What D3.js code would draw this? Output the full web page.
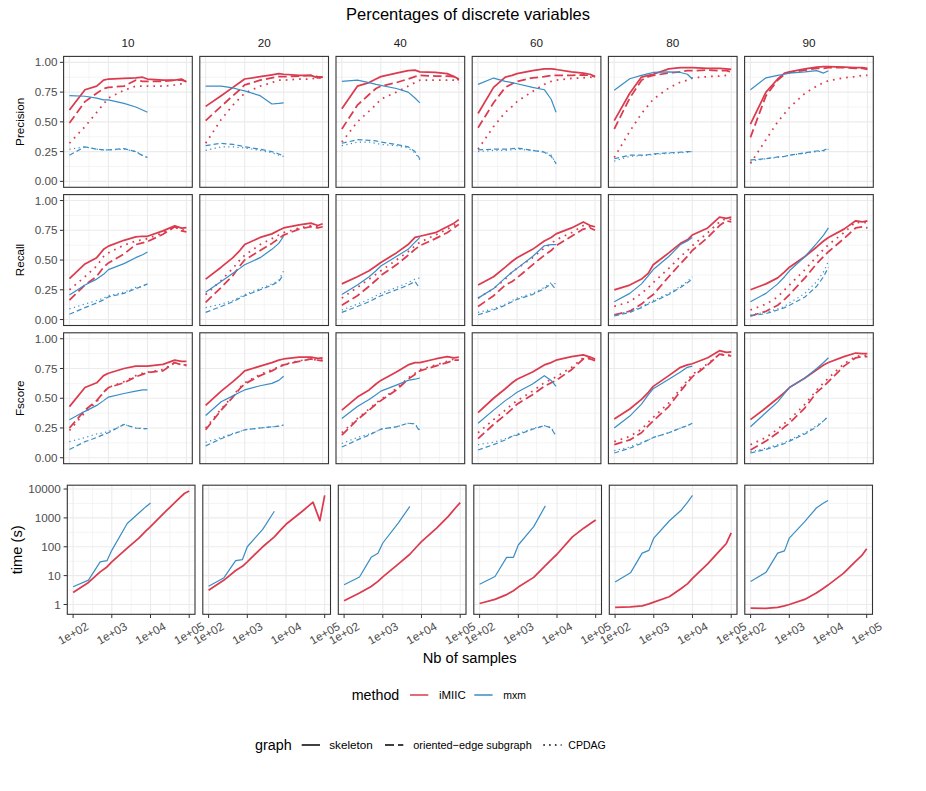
<!DOCTYPE html>
<html><head><meta charset="utf-8">
<script src="https://cdn.jsdelivr.net/npm/d3@7"></script>
<style>body{margin:0;background:#fff} text{font-family:"Liberation Sans",Arial,Helvetica,sans-serif}</style>
</head><body><svg id="c" width="926" height="791"></svg>
<script>
// ---------------- DATA ----------------
const title = "Percentages of discrete variables";
const percentages = ["10","20","40","60","80","90"];
const metrics = ["Precision","Recall","Fscore"];
const methods = ["iMIIC","mxm"];
const graphs = ["skeleton","oriented\u2212edge subgraph","CPDAG"];
const samples = [100,250,500,750,1000,2500,5000,7500,10000,25000,50000,75000,100000];
const xTickValues = [1e2,1e3,1e4,1e5];
const xTickLabels = ["1e+02","1e+03","1e+04","1e+05"];
const yTickValues = [0,0.25,0.5,0.75,1];
const yTickLabels = ["0.00","0.25","0.50","0.75","1.00"];
const timeTickValues = [1,10,100,1000,10000];
const timeTickLabels = ["1","10","100","1000","10000"];

// Precision
const precisionIMIICSkeleton = [
 [0.60,0.77,0.80,0.85,0.86,0.865,0.87,0.875,0.86,0.85,0.85,0.86,0.835],
 [0.63,0.72,0.79,0.83,0.86,0.88,0.895,0.905,0.90,0.89,0.89,0.87,0.875],
 [0.61,0.80,0.83,0.86,0.88,0.91,0.93,0.935,0.92,0.915,0.905,0.88,0.86],
 [0.57,0.79,0.876,0.89,0.905,0.93,0.946,0.945,0.94,0.92,0.91,0.90,0.88],
 [0.51,0.74,0.876,0.89,0.90,0.945,0.955,0.955,0.955,0.95,0.95,0.945,0.94],
 [0.48,0.75,0.86,0.91,0.92,0.945,0.96,0.965,0.965,0.96,0.955,0.955,0.95]];
const precisionIMIICOriented = [
 [0.49,0.67,0.74,0.78,0.79,0.80,0.85,0.84,0.84,0.84,0.85,0.85,0.84],
 [0.51,0.63,0.72,0.77,0.81,0.85,0.87,0.88,0.88,0.885,0.89,0.88,0.875],
 [0.44,0.64,0.73,0.78,0.80,0.83,0.86,0.88,0.89,0.885,0.885,0.88,0.85],
 [0.45,0.66,0.79,0.82,0.84,0.87,0.88,0.89,0.89,0.89,0.895,0.89,0.88],
 [0.44,0.70,0.85,0.88,0.89,0.91,0.92,0.93,0.93,0.935,0.93,0.93,0.92],
 [0.37,0.72,0.85,0.90,0.915,0.935,0.95,0.95,0.955,0.955,0.95,0.95,0.94]];
const precisionIMIICCPDAG = [
 [0.32,0.46,0.58,0.65,0.70,0.765,0.80,0.80,0.80,0.80,0.81,0.82,0.82],
 [0.32,0.52,0.64,0.70,0.74,0.80,0.83,0.85,0.85,0.86,0.86,0.87,0.87],
 [0.33,0.50,0.59,0.645,0.69,0.75,0.80,0.83,0.85,0.85,0.85,0.85,0.83],
 [0.27,0.46,0.58,0.63,0.67,0.756,0.815,0.84,0.85,0.865,0.87,0.875,0.87],
 [0.20,0.42,0.57,0.64,0.69,0.784,0.834,0.85,0.87,0.88,0.885,0.89,0.89],
 [0.15,0.35,0.50,0.57,0.62,0.74,0.80,0.83,0.845,0.87,0.88,0.89,0.89]];
const precisionMxmSkeleton = [
 [0.72,0.715,0.70,0.685,0.685,0.655,0.625,0.60,0.58],
 [0.80,0.80,0.785,0.77,0.76,0.72,0.65,0.655,0.66],
 [0.84,0.85,0.83,0.815,0.807,0.78,0.75,0.70,0.66],
 [0.815,0.868,0.84,0.83,0.82,0.79,0.77,0.69,0.58],
 [0.765,0.862,0.89,0.905,0.915,0.92,0.915,0.90,0.86],
 [0.77,0.87,0.89,0.90,0.91,0.92,0.93,0.91,0.93]];
const precisionMxmOriented = [
 [0.22,0.29,0.27,0.265,0.265,0.275,0.25,0.215,0.20],
 [0.30,0.32,0.31,0.30,0.29,0.27,0.25,0.23,0.215],
 [0.32,0.35,0.345,0.34,0.33,0.31,0.29,0.25,0.19],
 [0.265,0.27,0.27,0.275,0.28,0.26,0.245,0.21,0.15],
 [0.19,0.22,0.22,0.225,0.23,0.24,0.245,0.25,0.25],
 [0.18,0.19,0.205,0.21,0.22,0.24,0.255,0.26,0.28]];
const precisionMxmCPDAG = [
 [0.27,0.29,0.27,0.265,0.265,0.27,0.25,0.22,0.20],
 [0.26,0.29,0.29,0.285,0.28,0.26,0.24,0.22,0.21],
 [0.30,0.33,0.33,0.32,0.31,0.30,0.28,0.24,0.18],
 [0.25,0.26,0.26,0.265,0.27,0.26,0.25,0.22,0.15],
 [0.17,0.21,0.215,0.22,0.225,0.235,0.24,0.245,0.25],
 [0.17,0.19,0.20,0.21,0.22,0.235,0.25,0.255,0.27]];

// Recall
const recallIMIICSkeleton = [
 [0.343,0.467,0.52,0.59,0.617,0.666,0.694,0.70,0.70,0.745,0.787,0.768,0.773],
 [0.34,0.44,0.52,0.58,0.63,0.69,0.72,0.75,0.77,0.795,0.81,0.79,0.805],
 [0.30,0.36,0.41,0.45,0.48,0.56,0.63,0.69,0.70,0.73,0.78,0.81,0.84],
 [0.29,0.36,0.44,0.49,0.52,0.59,0.66,0.69,0.72,0.77,0.82,0.79,0.78],
 [0.25,0.29,0.34,0.39,0.46,0.56,0.64,0.67,0.71,0.77,0.86,0.85,0.86],
 [0.25,0.30,0.35,0.40,0.44,0.53,0.61,0.66,0.69,0.76,0.83,0.82,0.83]];
const recallIMIICOriented = [
 [0.164,0.29,0.363,0.44,0.476,0.55,0.63,0.645,0.655,0.717,0.779,0.745,0.737],
 [0.145,0.27,0.37,0.45,0.50,0.58,0.64,0.68,0.71,0.76,0.78,0.77,0.78],
 [0.12,0.20,0.28,0.33,0.37,0.46,0.54,0.59,0.62,0.68,0.73,0.77,0.80],
 [0.11,0.20,0.29,0.32,0.35,0.46,0.54,0.58,0.62,0.70,0.76,0.77,0.75],
 [0.04,0.07,0.13,0.18,0.21,0.36,0.47,0.53,0.58,0.69,0.79,0.83,0.82],
 [0.03,0.07,0.12,0.17,0.21,0.35,0.47,0.53,0.57,0.68,0.77,0.78,0.77]];
const recallIMIICCPDAG = [
 [0.25,0.36,0.45,0.53,0.56,0.625,0.66,0.67,0.68,0.73,0.78,0.75,0.76],
 [0.21,0.33,0.43,0.50,0.54,0.63,0.68,0.71,0.73,0.77,0.79,0.78,0.79],
 [0.18,0.27,0.34,0.38,0.41,0.50,0.57,0.62,0.65,0.71,0.76,0.79,0.82],
 [0.18,0.26,0.34,0.40,0.43,0.52,0.60,0.64,0.67,0.73,0.79,0.78,0.77],
 [0.11,0.15,0.22,0.27,0.31,0.43,0.53,0.58,0.62,0.73,0.82,0.85,0.84],
 [0.08,0.13,0.19,0.25,0.29,0.42,0.53,0.59,0.63,0.73,0.82,0.81,0.82]];
const recallMxmSkeleton = [
 [0.207,0.29,0.34,0.38,0.42,0.47,0.52,0.545,0.567],
 [0.23,0.32,0.39,0.43,0.46,0.52,0.59,0.64,0.70],
 [0.21,0.29,0.36,0.41,0.45,0.53,0.59,0.65,0.69],
 [0.18,0.26,0.35,0.40,0.43,0.53,0.62,0.63,0.63],
 [0.15,0.22,0.30,0.37,0.42,0.53,0.63,0.66,0.69],
 [0.15,0.22,0.30,0.36,0.41,0.53,0.64,0.71,0.77]];
const recallMxmOriented = [
 [0.045,0.10,0.14,0.165,0.19,0.22,0.26,0.28,0.30],
 [0.06,0.11,0.15,0.18,0.20,0.25,0.29,0.32,0.38],
 [0.06,0.11,0.15,0.18,0.20,0.25,0.29,0.32,0.26],
 [0.04,0.08,0.12,0.15,0.17,0.21,0.26,0.30,0.25],
 [0.03,0.06,0.10,0.13,0.15,0.21,0.27,0.31,0.34],
 [0.03,0.05,0.08,0.10,0.12,0.19,0.28,0.36,0.44]];
const recallMxmCPDAG = [
 [0.09,0.13,0.16,0.18,0.20,0.23,0.27,0.28,0.31],
 [0.10,0.13,0.16,0.19,0.21,0.26,0.30,0.33,0.41],
 [0.08,0.13,0.17,0.20,0.22,0.27,0.31,0.34,0.35],
 [0.06,0.09,0.13,0.16,0.18,0.22,0.27,0.31,0.30],
 [0.04,0.07,0.11,0.14,0.16,0.22,0.28,0.32,0.36],
 [0.04,0.06,0.09,0.11,0.14,0.22,0.32,0.40,0.49]];

// Fscore
const fscoreIMIICSkeleton = [
 [0.43,0.59,0.63,0.69,0.71,0.75,0.77,0.77,0.77,0.785,0.82,0.81,0.81],
 [0.44,0.56,0.64,0.69,0.73,0.77,0.80,0.82,0.83,0.845,0.845,0.835,0.84],
 [0.40,0.51,0.57,0.62,0.65,0.72,0.78,0.80,0.80,0.83,0.85,0.84,0.845],
 [0.38,0.50,0.58,0.63,0.66,0.72,0.78,0.80,0.82,0.85,0.865,0.845,0.83],
 [0.325,0.41,0.49,0.55,0.60,0.69,0.76,0.78,0.79,0.84,0.90,0.885,0.89],
 [0.32,0.42,0.50,0.55,0.59,0.67,0.74,0.78,0.80,0.85,0.88,0.875,0.875]];
const fscoreIMIICOriented = [
 [0.25,0.40,0.48,0.55,0.59,0.63,0.68,0.70,0.715,0.73,0.80,0.78,0.78],
 [0.235,0.40,0.51,0.58,0.62,0.69,0.73,0.76,0.78,0.81,0.83,0.82,0.815],
 [0.19,0.32,0.40,0.45,0.48,0.57,0.66,0.70,0.73,0.77,0.80,0.82,0.82],
 [0.16,0.28,0.36,0.41,0.45,0.53,0.60,0.63,0.65,0.74,0.83,0.83,0.815],
 [0.11,0.15,0.21,0.27,0.31,0.43,0.56,0.63,0.68,0.78,0.87,0.86,0.855],
 [0.065,0.14,0.21,0.26,0.29,0.42,0.55,0.60,0.64,0.77,0.84,0.85,0.85]];
const fscoreIMIICCPDAG = [
 [0.23,0.38,0.47,0.55,0.59,0.64,0.69,0.71,0.72,0.74,0.80,0.78,0.775],
 [0.25,0.41,0.52,0.59,0.63,0.70,0.74,0.765,0.785,0.815,0.83,0.82,0.82],
 [0.21,0.33,0.41,0.46,0.49,0.58,0.67,0.71,0.74,0.78,0.81,0.83,0.825],
 [0.21,0.32,0.40,0.45,0.48,0.56,0.63,0.66,0.68,0.76,0.84,0.84,0.82],
 [0.135,0.18,0.24,0.30,0.34,0.46,0.58,0.65,0.70,0.79,0.87,0.865,0.86],
 [0.11,0.17,0.24,0.29,0.32,0.45,0.57,0.63,0.67,0.79,0.85,0.86,0.86]];
const fscoreMxmSkeleton = [
 [0.32,0.39,0.44,0.48,0.51,0.54,0.56,0.57,0.57],
 [0.355,0.47,0.52,0.55,0.57,0.605,0.625,0.65,0.685],
 [0.33,0.43,0.49,0.53,0.56,0.61,0.65,0.66,0.67],
 [0.29,0.40,0.48,0.52,0.55,0.62,0.69,0.65,0.60],
 [0.25,0.35,0.45,0.53,0.58,0.66,0.72,0.76,0.77],
 [0.26,0.38,0.47,0.54,0.59,0.67,0.75,0.80,0.84]];
const fscoreMxmOriented = [
 [0.07,0.135,0.17,0.195,0.21,0.28,0.25,0.245,0.245],
 [0.10,0.16,0.20,0.22,0.235,0.25,0.26,0.265,0.275],
 [0.09,0.15,0.19,0.22,0.24,0.26,0.29,0.285,0.22],
 [0.065,0.11,0.15,0.18,0.19,0.24,0.27,0.25,0.18],
 [0.04,0.08,0.12,0.15,0.17,0.21,0.25,0.27,0.29],
 [0.04,0.07,0.10,0.12,0.14,0.20,0.26,0.31,0.35]];
const fscoreMxmCPDAG = [
 [0.135,0.17,0.20,0.21,0.22,0.28,0.25,0.245,0.245],
 [0.13,0.17,0.205,0.22,0.235,0.25,0.26,0.265,0.275],
 [0.12,0.17,0.20,0.22,0.24,0.26,0.29,0.285,0.23],
 [0.11,0.13,0.16,0.18,0.20,0.245,0.27,0.255,0.18],
 [0.06,0.09,0.13,0.15,0.17,0.21,0.25,0.27,0.29],
 [0.05,0.08,0.11,0.13,0.15,0.21,0.27,0.31,0.35]];

// Time (s)
const timeIMIIC = [
 [2.6,5.8,13.5,20,30,90,200,350,500,1700,4200,7000,8500],
 [3.1,7,15,21,30,100,220,400,600,1600,3500,800,6000],
 [1.35,2.5,4.2,6.3,9,25,55,100,150,450,1150,2200,3400],
 [1.08,1.5,2.2,3.0,4,8.7,22,38,55,220,450,650,850],
 [0.8,0.82,0.9,1.05,1.2,1.85,3.5,5.3,8,26,72,130,300],
 [0.75,0.73,0.8,0.9,1.0,1.5,2.5,3.6,4.7,12,30,50,85]];
const timeMxm = [
 [4.1,7,30,33,75,640,1480,2400,3300],
 [4.3,8.5,33,36,100,400,1700],
 [4.8,9,43,60,135,660,2500],
 [5,9.3,43,43,115,500,2600],
 [6,12.5,60,75,200,780,1800,3500,6000],
 [6.3,13,60,72,200,740,2200,3200,4000]];

// ---------------- TABLES ----------------
const metricSeries = [
 [ {m:0,g:0,v:precisionIMIICSkeleton},{m:0,g:1,v:precisionIMIICOriented},{m:0,g:2,v:precisionIMIICCPDAG},
   {m:1,g:0,v:precisionMxmSkeleton},{m:1,g:1,v:precisionMxmOriented},{m:1,g:2,v:precisionMxmCPDAG} ],
 [ {m:0,g:0,v:recallIMIICSkeleton},{m:0,g:1,v:recallIMIICOriented},{m:0,g:2,v:recallIMIICCPDAG},
   {m:1,g:0,v:recallMxmSkeleton},{m:1,g:1,v:recallMxmOriented},{m:1,g:2,v:recallMxmCPDAG} ],
 [ {m:0,g:0,v:fscoreIMIICSkeleton},{m:0,g:1,v:fscoreIMIICOriented},{m:0,g:2,v:fscoreIMIICCPDAG},
   {m:1,g:0,v:fscoreMxmSkeleton},{m:1,g:1,v:fscoreMxmOriented},{m:1,g:2,v:fscoreMxmCPDAG} ]
];
const timeSeries = [{m:0,v:timeIMIIC},{m:1,v:timeMxm}];

// ---------------- STYLE / LAYOUT ----------------
const colors = ["#DB3B4E","#3A8DC5"];
const widths = [1.75,1.2];
const dashes = [[null,"8.5,4","1.7,5"],[null,"5,3","1.2,3.4"]];
const GRID = "#EBEBEB", BORDER = "#333333", TICKTXT = "#4D4D4D";
const topL=63.6, topStep=136.2, topW=128.7, topH=130.9;
const rowTop=[56.4,194.6,332.8];
const tL=67.3, tStep=135.5, tW=127.7, tTop=485.2, tH=129.1;

const svg = d3.select("#c");
svg.append("rect").attr("width",926).attr("height",791).attr("fill","#fff");

// scales
const xDom = [Math.pow(10,1.85), Math.pow(10,5.15)];
const xTop = d3.scaleLog().domain(xDom).range([0,topW]);
const xTime = d3.scaleLog().domain(xDom).range([0,tW]);
const yTop = d3.scaleLinear().domain([-0.05,1.05]).range([topH,0]);
const allT = timeIMIIC.flat().concat(timeMxm.flat());
const lmin = Math.log10(d3.min(allT)), lmax = Math.log10(d3.max(allT)), lr = lmax-lmin;
const yTime = d3.scaleLog().domain([Math.pow(10,lmin-0.05*lr), Math.pow(10,lmax+0.05*lr)]).range([tH,0]);

const xMinor = [Math.pow(10,2.5),Math.pow(10,3.5),Math.pow(10,4.5)];
const yMinorTop = [0.125,0.375,0.625,0.875];
const yMinorTime = [0.5,1.5,2.5,3.5].map(e=>Math.pow(10,e));

function drawGrid(g, xs, ys, w, h, yMaj, yMin){
  yMin.forEach(v=>g.append("line").attr("x1",0).attr("x2",w).attr("y1",ys(v)).attr("y2",ys(v)).attr("stroke",GRID).attr("stroke-width",0.55));
  xMinor.forEach(v=>g.append("line").attr("y1",0).attr("y2",h).attr("x1",xs(v)).attr("x2",xs(v)).attr("stroke",GRID).attr("stroke-width",0.55));
  yMaj.forEach(v=>g.append("line").attr("x1",0).attr("x2",w).attr("y1",ys(v)).attr("y2",ys(v)).attr("stroke",GRID).attr("stroke-width",1.1));
  xTickValues.forEach(v=>g.append("line").attr("y1",0).attr("y2",h).attr("x1",xs(v)).attr("x2",xs(v)).attr("stroke",GRID).attr("stroke-width",1.1));
}

// title
svg.append("text").attr("x",468).attr("y",20).attr("text-anchor","middle").attr("font-size",16.5).attr("fill","#000").text(title);

// strip labels
percentages.forEach((p,c)=>{
  svg.append("text").attr("x",topL+c*topStep+topW/2).attr("y",46.5).attr("text-anchor","middle")
     .attr("font-size",11.7).attr("fill","#1A1A1A").text(p);
});

// metric rows
metrics.forEach((mt,r)=>{
  const y0 = rowTop[r];
  svg.append("text").attr("transform",`translate(${23.5},${y0+topH/2}) rotate(-90)`).attr("text-anchor","middle")
     .attr("font-size",11.7).attr("fill","#000").text(mt);
  const ya = svg.append("g").attr("transform",`translate(${topL},${y0})`);
  yTickValues.forEach((v,i)=>{
    ya.append("line").attr("x1",-3.7).attr("x2",0).attr("y1",yTop(v)).attr("y2",yTop(v)).attr("stroke",BORDER).attr("stroke-width",1);
    ya.append("text").attr("x",-6).attr("y",yTop(v)).attr("dy","0.35em").attr("text-anchor","end")
      .attr("font-size",11.7).attr("fill",TICKTXT).text(yTickLabels[i]);
  });
  percentages.forEach((p,c)=>{
    const g = svg.append("g").attr("transform",`translate(${topL+c*topStep},${y0})`);
    drawGrid(g, xTop, yTop, topW, topH, yTickValues, yMinorTop);
    metricSeries[r].forEach(s=>{
      const vals = s.v[c];
      const pts = vals.map((v,i)=>[samples[i],v]);
      const line = d3.line().x(d=>xTop(d[0])).y(d=>yTop(d[1]));
      const path = g.append("path").attr("d",line(pts)).attr("fill","none")
        .attr("stroke",colors[s.m]).attr("stroke-width",widths[s.m]).attr("stroke-linejoin","round");
      if(dashes[s.m][s.g]) path.attr("stroke-dasharray",dashes[s.m][s.g]);
    });
    g.append("rect").attr("x",0).attr("y",0).attr("width",topW).attr("height",topH)
      .attr("fill","none").attr("stroke",BORDER).attr("stroke-width",1.1);
  });
});

// time row
svg.append("text").attr("transform",`translate(${22},${tTop+tH/2}) rotate(-90)`).attr("text-anchor","middle")
   .attr("font-size",14.7).attr("fill","#000").text("time (s)");
const ta = svg.append("g").attr("transform",`translate(${tL},${tTop})`);
timeTickValues.forEach((v,i)=>{
  ta.append("line").attr("x1",-3.7).attr("x2",0).attr("y1",yTime(v)).attr("y2",yTime(v)).attr("stroke",BORDER).attr("stroke-width",1);
  ta.append("text").attr("x",-6.5).attr("y",yTime(v)).attr("dy","0.35em").attr("text-anchor","end")
    .attr("font-size",11.7).attr("fill",TICKTXT).text(timeTickLabels[i]);
});
percentages.forEach((p,c)=>{
  const g = svg.append("g").attr("transform",`translate(${tL+c*tStep},${tTop})`);
  drawGrid(g, xTime, yTime, tW, tH, timeTickValues, yMinorTime);
  timeSeries.forEach(s=>{
    const vals = s.v[c];
    const pts = vals.map((v,i)=>[samples[i],v]);
    const line = d3.line().x(d=>xTime(d[0])).y(d=>yTime(d[1]));
    g.append("path").attr("d",line(pts)).attr("fill","none").attr("stroke",colors[s.m])
      .attr("stroke-width",widths[s.m]).attr("stroke-linejoin","round");
  });
  g.append("rect").attr("x",0).attr("y",0).attr("width",tW).attr("height",tH)
    .attr("fill","none").attr("stroke",BORDER).attr("stroke-width",1.1);
  xTickValues.forEach((v,i)=>{
    g.append("line").attr("x1",xTime(v)).attr("x2",xTime(v)).attr("y1",tH).attr("y2",tH+3.7).attr("stroke",BORDER).attr("stroke-width",1);
    g.append("text").attr("transform",`translate(${xTime(v)},${tH+19}) rotate(-30)`).attr("text-anchor","middle")
      .attr("dy","0.35em").attr("font-size",11.7).attr("fill",TICKTXT).text(xTickLabels[i]);
  });
});
svg.append("text").attr("x",469.7).attr("y",663).attr("text-anchor","middle").attr("font-size",14.7).attr("fill","#000").text("Nb of samples");

// legend: method
const lg1 = svg.append("g");
lg1.append("text").attr("x",351.7).attr("y",700).attr("font-size",14.7).attr("fill","#000")
   .attr("textLength",47.6).attr("lengthAdjust","spacingAndGlyphs").text("method");
[[410,439,26.7],[474.3,503.3,22.7]].forEach((d,i)=>{
  lg1.append("line").attr("x1",d[0]).attr("x2",d[0]+18.3).attr("y1",695).attr("y2",695).attr("stroke",colors[i]).attr("stroke-width",1.5);
  lg1.append("text").attr("x",d[1]).attr("y",699).attr("font-size",11.7).attr("fill","#000")
     .attr("textLength",d[2]).attr("lengthAdjust","spacingAndGlyphs").text(methods[i]);
});
// legend: graph
const lg2 = svg.append("g");
lg2.append("text").attr("x",255).attr("y",750).attr("font-size",14.7).attr("fill","#000")
   .attr("textLength",36.7).attr("lengthAdjust","spacingAndGlyphs").text("graph");
const gDash = [null,"9,4","1.6,4.2"];
[[301.7,329.3,43.4],[385,413.3,118.4],[543.3,568.3,37.5]].forEach((d,i)=>{
  const l = lg2.append("line").attr("x1",d[0]).attr("x2",d[0]+18.3).attr("y1",745).attr("y2",745).attr("stroke","#000").attr("stroke-width",1.5);
  if(gDash[i]) l.attr("stroke-dasharray",gDash[i]);
  lg2.append("text").attr("x",d[1]).attr("y",749).attr("font-size",11.7).attr("fill","#000")
     .attr("textLength",d[2]).attr("lengthAdjust","spacingAndGlyphs").text(graphs[i]);
});
</script></body></html>
